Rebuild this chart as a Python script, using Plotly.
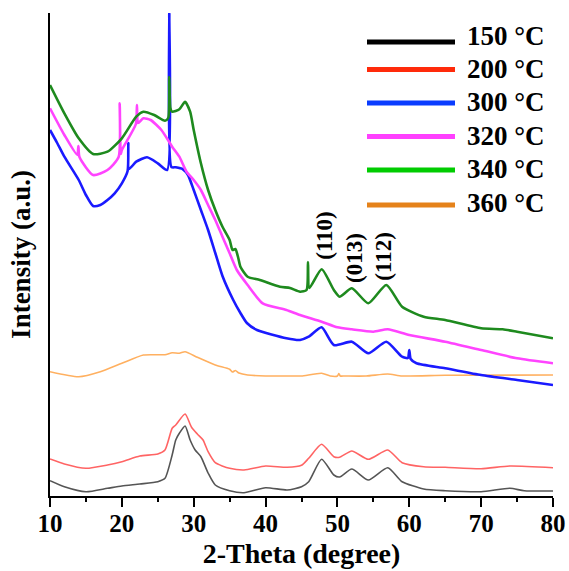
import plotly.graph_objects as go

# ---- XRD patterns (2-theta in degrees, intensity in arbitrary units) ----
x_150 = [10, 12, 15, 18, 20, 22.5, 25, 26, 27, 27.5, 28, 28.8, 29.5, 30.2, 31, 32, 33, 35, 37, 40,
         43, 45, 46, 47.8, 49.5, 50.3, 52, 54.3, 57, 59, 62, 65, 70, 74, 76, 80]
y_150 = [15.3, 9.3, 4.3, 7.7, 10, 12, 14.3, 17.7, 41, 56, 62.7, 70, 56, 46, 39.3, 23, 11, 5.3, 3.3, 8.3,
         6, 9.3, 14.3, 36.7, 21, 19, 27, 16, 28.3, 14.3, 7, 5.3, 4.3, 7.7, 5.3, 5]

x_200 = [10, 12, 15, 18, 20, 22.5, 25, 26, 27, 27.5, 28.8, 29.7, 30.5, 31.3, 32, 33, 35, 37, 40,
         43, 45, 46, 47.8, 49.5, 50.3, 52, 54.3, 57, 59, 62, 65, 70, 74, 80]
y_200 = [37, 32, 27.7, 31, 34.3, 40, 42, 46, 67.7, 71, 82, 68.7, 62, 56, 44.3, 33.3, 27.7, 26, 30,
         28.7, 30.7, 37.7, 51.7, 39.3, 38.7, 45, 36.7, 46, 33.3, 29.3, 28.7, 27.3, 30, 28.3]

x_300 = [10, 11, 12, 14, 15, 16, 17, 18, 19, 20, 20.8, 20.9, 21.0, 22, 23.5, 25, 26.3, 26.6, 26.9,
         27.5, 28.5, 29.2, 30, 31, 32, 33, 34, 35.5, 36.5, 37.4, 38.8, 42.9, 44.8, 46, 47.8,
         49.5, 52, 54.3, 56.8, 59, 59.8, 60.0, 60.2, 61, 65, 70, 75, 80]
y_300 = [366, 353, 339.3, 316, 301, 290, 291, 296, 302.7, 312.7, 325, 353, 327, 334.3, 338.7, 332.7, 326, 483, 329,
         328.7, 326.7, 321, 306, 286, 266, 243, 220, 196, 183, 173, 166, 157.7, 156, 159.3, 168.7,
         151, 154.3, 142.7, 154.3, 139.3, 138, 146, 137, 132.7, 127.7, 121, 116, 111]

x_320 = [10, 12, 13.8, 13.95, 14.1, 16, 18, 19.55, 19.7, 19.85, 20, 21.95, 22.1, 22.25, 23, 24,
         25.5, 27, 28, 29, 30, 31, 32, 33, 34, 35, 36, 37.5, 39.6, 42.9, 44.8, 47.8, 50, 52,
         55, 57, 60, 65, 70, 75, 80]
y_320 = [387.7, 361, 341, 350, 339, 321, 326, 339, 392.7, 342, 346, 372, 391, 373, 377.7, 376,
         366, 349.3, 339.3, 324.3, 316, 306, 291, 276, 259.3, 242.7, 226, 211, 192.7, 186, 181, 174.3, 168.7, 166.7,
         164.3, 166.7, 161, 154.3, 146, 137.7, 132.7]

x_340 = [10, 12, 14, 16, 18, 20, 22, 23, 24.5, 26, 26.45, 26.6, 26.75, 27, 28, 28.8, 29.5, 30, 31,
         32, 33, 34, 35, 35.4, 35.8, 36.2, 36.5, 37.5, 39.2, 42, 43.4, 44.8, 45.7, 45.9, 46.1,
         47.8, 49.5, 50.3, 52, 54.3, 56.8, 59, 62, 65, 70, 73, 75, 80]
y_340 = [411, 382.7, 357.7, 342, 344.3, 357.7, 379.3, 384.3, 381, 375.3, 378, 419, 388, 384.3, 386.7, 394.3, 384.3, 366, 332.7,
         306, 286, 269.3, 256, 246, 247, 238, 229.3, 219.3, 216, 209.3, 208, 204.3, 206, 234, 208,
         226.7, 206, 199.3, 207.7, 192.7, 211, 189.3, 179.3, 176, 167.7, 166.7, 164.3, 157.7]

x_360 = [10, 14, 17, 20, 23, 26, 27, 28, 28.8, 30.5, 33, 35, 35.4, 35.8, 36.3, 37.5, 40, 44,
         45, 47.8, 49, 50.0, 50.2, 50.4, 51, 54, 57, 59, 65, 80]
y_360 = [124.3, 119.3, 124.3, 132.7, 141, 141.3, 143.3, 142.7, 144.3, 138.7, 131, 126.7, 124, 125.5, 123, 121, 120, 120,
         120, 122.7, 120, 120, 122.5, 120, 120, 120, 122, 120, 120.7, 121]

series_names = ["150 °C", "200 °C", "300 °C", "320 °C", "340 °C", "360 °C"]
legend_colors = ["#000000", "#ff2a0a", "#0a3cff", "#ff40ff", "#00cc00", "#e5821a"]
line_colors = ["#555555", "#ff6464", "#1a1aff", "#ff44ff", "#1e8a1e", "#ffb060"]
line_widths = [1.6, 1.6, 2.6, 2.6, 2.6, 1.6]

peak_labels = ["(110)", "(013)", "(112)"]
peak_pos = [48.1, 52.3, 56.3]
peak_label_y = [261, 238, 240]

xs = [x_150, x_200, x_300, x_320, x_340, x_360]
ys = [y_150, y_200, y_300, y_320, y_340, y_360]

FONT = "Liberation Serif, Times New Roman, serif"

# figure / plot-area geometry (pixels)
W, H = 569, 571
M_L, M_R, M_T, M_B = 50, 16, 13, 75
PW, PH = W - M_L - M_R, H - M_T - M_B


def px_to_paper_x(px):
    return (px - M_L) / PW


def px_to_paper_y(py):
    return (H - M_B - py) / PH


fig = go.Figure()

# draw order: lower curves first
for i in [5, 0, 1, 2, 3, 4]:
    fig.add_trace(go.Scatter(
        x=xs[i], y=ys[i], mode="lines", showlegend=False,
        line=dict(color=line_colors[i], width=line_widths[i], shape="spline", smoothing=0.6),
        name=series_names[i], hoverinfo="skip"))

# legend block: thick colour keys with bold labels, top-right of the plot
key_x0, key_x1, label_x = 367, 455, 465
key_rows = [42, 69.5, 103, 136.5, 170, 205]
label_rows = [36, 69, 102, 135.5, 169, 203]
for name, col, row, lrow in zip(series_names, legend_colors, key_rows, label_rows):
    fig.add_shape(type="line", xref="paper", yref="paper",
                  x0=px_to_paper_x(key_x0), x1=px_to_paper_x(key_x1),
                  y0=px_to_paper_y(row), y1=px_to_paper_y(row),
                  line=dict(color=col, width=5))
    fig.add_annotation(xref="paper", yref="paper", x=px_to_paper_x(label_x), y=px_to_paper_y(lrow),
                       xanchor="left", yanchor="middle", text=name, showarrow=False,
                       font=dict(family=FONT, size=27, color="black", weight="bold"))

for lab, px, py in zip(peak_labels, peak_pos, peak_label_y):
    fig.add_annotation(x=px, y=py, text=lab, textangle=-90, showarrow=False,
                       font=dict(family=FONT, size=23, color="black", weight="bold"))

fig.update_layout(
    width=W, height=H,
    margin=dict(l=M_L, r=M_R, t=M_T, b=M_B),
    paper_bgcolor="white", plot_bgcolor="white",
    font=dict(family=FONT, color="black"),
    showlegend=False,
    xaxis=dict(
        range=[10, 80], dtick=10, tick0=10, automargin=False,
        showline=True, linecolor="black", linewidth=2, mirror=False,
        ticks="outside", ticklen=9, tickwidth=1.5, tickcolor="black",
        minor=dict(dtick=5, tick0=10, ticks="outside", ticklen=4, tickwidth=1.5, tickcolor="black"),
        showgrid=False, zeroline=False, ticklabelstandoff=-5,
        tickfont=dict(family=FONT, size=25, color="black", weight="bold"),
        title=dict(text="2-Theta (degree)", standoff=7,
                   font=dict(family=FONT, size=28, color="black", weight="bold")),
    ),
    yaxis=dict(
        range=[0, 483], showline=True, linecolor="black", linewidth=2, automargin=False,
        showticklabels=False, ticks="", showgrid=False, zeroline=False,
        title=dict(text="Intensity (a.u.)", standoff=10,
                   font=dict(family=FONT, size=27, color="black", weight="bold")),
    ),
)

fig.write_html("out.html")
